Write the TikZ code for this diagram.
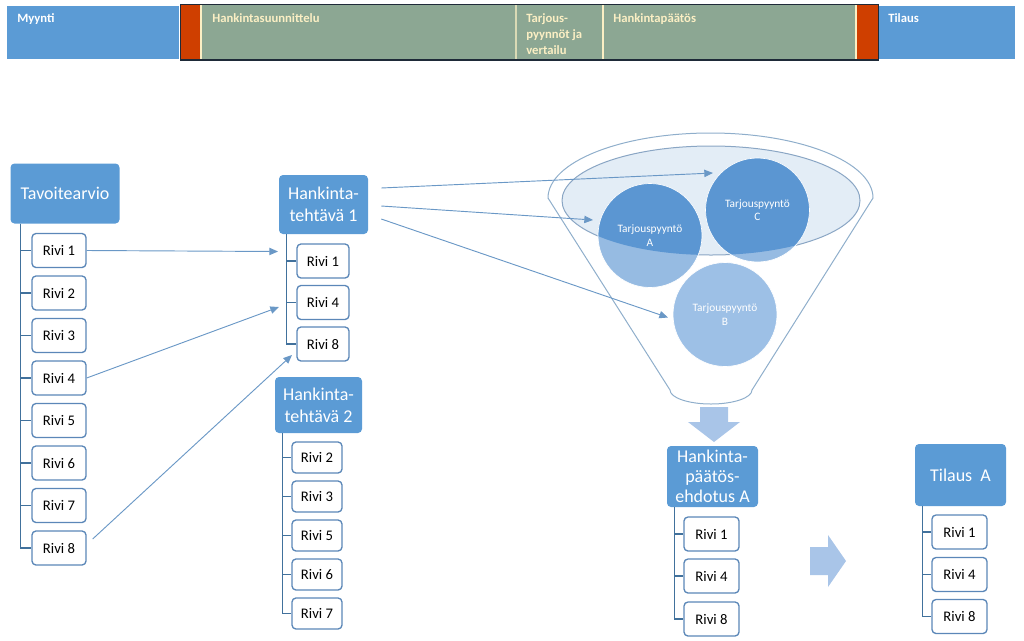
\documentclass[tikz,border=0pt]{standalone}
\usepackage{fontspec}
\setmainfont{Carlito}
\usetikzlibrary{arrows.meta,calc}
\definecolor{boxblue}{HTML}{5B9BD5}
\definecolor{rivib}{HTML}{5B87B8}
\definecolor{treeb}{HTML}{41719C}
\definecolor{arrb}{HTML}{6A98C6}
\definecolor{barred}{HTML}{CF3F00}
\definecolor{bargreen}{HTML}{8CA793}
\definecolor{cream}{HTML}{FBEFC4}
\definecolor{barline}{HTML}{1E2A38}
\definecolor{funl}{HTML}{8FAECB}
\definecolor{ellfill}{HTML}{DCE8F4}
\definecolor{ellline}{HTML}{8AA6C4}
\definecolor{cdark}{HTML}{5B96D2}
\definecolor{clight}{HTML}{96BBE2}
\definecolor{cB}{HTML}{9DC0E6}
\definecolor{blockarr}{HTML}{A9C5E8}
\tikzset{
  hdr/.style={rectangle, rounded corners=3pt, fill=boxblue, text=white, align=center,
    inner sep=0pt, font=\fontsize{13.5}{16.5}\selectfont},
  rivi/.style={rectangle, rounded corners=3pt, draw=rivib, line width=1pt, fill=white,
    minimum width=40.5pt, minimum height=25.5pt, inner sep=0pt, font=\fontsize{11}{13}\selectfont},
  rivis/.style={rivi, minimum width=37.5pt, minimum height=23.25pt},
  tree/.style={draw=treeb, line width=1.1pt},
  arr/.style={draw=arrb, line width=0.7pt, -{Triangle[length=6.5pt,width=5.5pt]}},
  bartxt/.style={inner sep=0pt, font=\fontsize{9.5}{12}\selectfont\bfseries},
  ctext/.style={circle, minimum size=78pt, inner sep=0pt, align=center, text=white,
    draw=white, line width=0.5pt, font=\fontsize{8.5}{10}\selectfont},
}
\begin{document}
\begin{tikzpicture}[x=0.75pt,y=-0.75pt]
\useasboundingbox (0,0) rectangle (1024,640);
% ---------- top bar ----------
\fill[boxblue] (7,6) rectangle (179,59);
\fill[boxblue] (879,6) rectangle (1015,59);
\fill[bargreen] (181,5) rectangle (878,60);
\fill[barred] (181,5) rectangle (200,60);
\fill[barred] (857,5) rectangle (878,60);
\draw[cream, line width=0.8pt] (201,5) -- (201,60);
\draw[cream!70!bargreen, line width=0.8pt] (516,5) -- (516,60);
\draw[cream, line width=0.8pt] (603,5) -- (603,60);
\draw[cream, line width=0.8pt] (856,5) -- (856,60);
\draw[barline, line width=1pt] (180.5,4.5) rectangle (878.5,60);
\node[bartxt, text=white, anchor=base west] (myynti) at (17,22.5) {Myynti};
\node[bartxt, text=cream, anchor=base west] (hsuun) at (212,22.5) {Hankintasuunnittelu};
\node[bartxt, text=cream, anchor=north west, align=left] (tarj) at (526,13.5) {Tarjous-\\pyynnöt ja\\vertailu};
\node[bartxt, text=cream, anchor=base west] (hpaat) at (613,22.5) {Hankintapäätös};
\node[bartxt, text=white, anchor=base west] (tilbar) at (888,22.5) {Tilaus};
% ---------- Tavoitearvio ----------
\node[hdr, minimum width=81.75pt, minimum height=45pt] (tav) at (65,193.5) {Tavoitearvio};
\node[rivi] (l1) at (59,250.5) {Rivi 1};
\node[rivi] (l2) at (59,293) {Rivi 2};
\node[rivi] (l3) at (59,335.5) {Rivi 3};
\node[rivi] (l4) at (59,378) {Rivi 4};
\node[rivi] (l5) at (59,420.5) {Rivi 5};
\node[rivi] (l6) at (59,463) {Rivi 6};
\node[rivi] (l7) at (59,505.5) {Rivi 7};
\node[rivi] (l8) at (59,548) {Rivi 8};
\foreach \n in {l1,l2,l3,l4,l5,l6,l7,l8}
  \draw[tree] ($(tav.south west)+(10,0)$) |- (\n.west);
% ---------- Hankintatehtava 1 ----------
\node[hdr, minimum width=66.75pt, minimum height=44.25pt] (ht1) at (323.5,204.5) {Hankinta-\\tehtävä 1};
\node[rivi, minimum width=39pt] (a1) at (323,261) {Rivi 1};
\node[rivi, minimum width=39pt] (a4) at (323,302.5) {Rivi 4};
\node[rivi, minimum width=39pt] (a8) at (323,344) {Rivi 8};
\foreach \n in {a1,a4,a8}
  \draw[tree] ($(ht1.south west)+(8,0)$) |- (\n.west);
% ---------- Hankintatehtava 2 ----------
\node[hdr, minimum width=65.25pt, minimum height=42pt] (ht2) at (318.5,405) {Hankinta-\\tehtävä 2};
\node[rivis] (b2) at (317,457.5) {Rivi 2};
\node[rivis] (b3) at (317,496.5) {Rivi 3};
\node[rivis] (b5) at (317,535.5) {Rivi 5};
\node[rivis] (b6) at (317,574.5) {Rivi 6};
\node[rivis] (b7) at (317,613.5) {Rivi 7};
\foreach \n in {b2,b3,b5,b6,b7}
  \draw[tree] ($(ht2.south west)+(8,0)$) |- (\n.west);
% ---------- arrows from Tavoitearvio rows ----------
\coordinate (t1) at (278,251.5);
\coordinate (t4) at (279,307);
\coordinate (t8) at (292,355);
\draw[arr] (l1.east) -- (t1);
\draw[arr] (l4.east) -- (t4);
\draw[arr] ($(l8.east)+(6,-9)$) -- (t8);
% ---------- funnel ----------
\draw[funl, line width=0.75pt] (548,198) arc[start angle=180, end angle=360, x radius=162.5, y radius=65]
   -- (752,390) arc[start angle=0, end angle=180, x radius=41, y radius=14] -- cycle;
\draw[ellline, line width=0.75pt, fill=ellfill, fill opacity=0.8] (711,200.5) ellipse [x radius=149, y radius=54.5];
\fill[clight] (650,235.5) circle[radius=52];
\fill[clight] (757.5,210) circle[radius=52];
\fill[cB] (725,314.5) circle[radius=52];
\begin{scope}
  \clip (711,200.5) ellipse [x radius=149, y radius=54.5];
  \fill[cdark] (650,235.5) circle[radius=52];
  \fill[cdark] (757.5,210) circle[radius=52];
\end{scope}
\node[ctext] (cA) at (650,235.5) {Tarjouspyyntö\\A};
\node[ctext] (cC) at (757.5,210) {Tarjouspyyntö\\C};
\node[ctext] (cBn) at (725,314.5) {Tarjouspyyntö\\B};
% ---------- arrows from Hankintatehtava 1 ----------
\coordinate (tC) at (713,173);
\coordinate (tA) at (593,220);
\coordinate (tB) at (668,317.5);
\draw[arr] ($(ht1.east)+(13,-16.5)$) -- (tC);
\draw[arr] ($(ht1.east)+(13,1.5)$) -- (tA);
\draw[arr] ($(ht1.east)+(13,14.5)$) -- (tB);
% ---------- block arrows ----------
\fill[blockarr] (700,407) -- (728,407) -- (728,422) -- (740,422) -- (714,442) -- (688,422) -- (700,422) -- cycle;
\fill[blockarr] (810,547) -- (828,547) -- (828,535) -- (846,561) -- (828,587) -- (828,575) -- (810,575) -- cycle;
% ---------- Hankintapaatosehdotus A ----------
\node[hdr, minimum width=68.25pt, minimum height=45.75pt, font=\fontsize{13.5}{15}\selectfont] (hpe) at (712.5,476.5) {Hankinta-\\päätös-\\ehdotus A};
\node[rivi, minimum width=41.25pt] (p1) at (711.5,534) {Rivi 1};
\node[rivi, minimum width=41.25pt] (p4) at (711.5,576) {Rivi 4};
\node[rivi, minimum width=41.25pt] (p8) at (711.5,619) {Rivi 8};
\foreach \n in {p1,p4,p8}
  \draw[tree] ($(hpe.south west)+(8,0)$) |- (\n.west);
% ---------- Tilaus A ----------
\node[hdr, minimum width=68.25pt, minimum height=46.5pt] (til) at (960.5,475) {Tilaus\ \ A};
\node[rivi, minimum width=41.25pt] (q1) at (959.5,532) {Rivi 1};
\node[rivi, minimum width=41.25pt] (q4) at (959.5,574.5) {Rivi 4};
\node[rivi, minimum width=41.25pt] (q8) at (959.5,616.5) {Rivi 8};
\foreach \n in {q1,q4,q8}
  \draw[tree] ($(til.south west)+(8,0)$) |- (\n.west);
\end{tikzpicture}
\end{document}
